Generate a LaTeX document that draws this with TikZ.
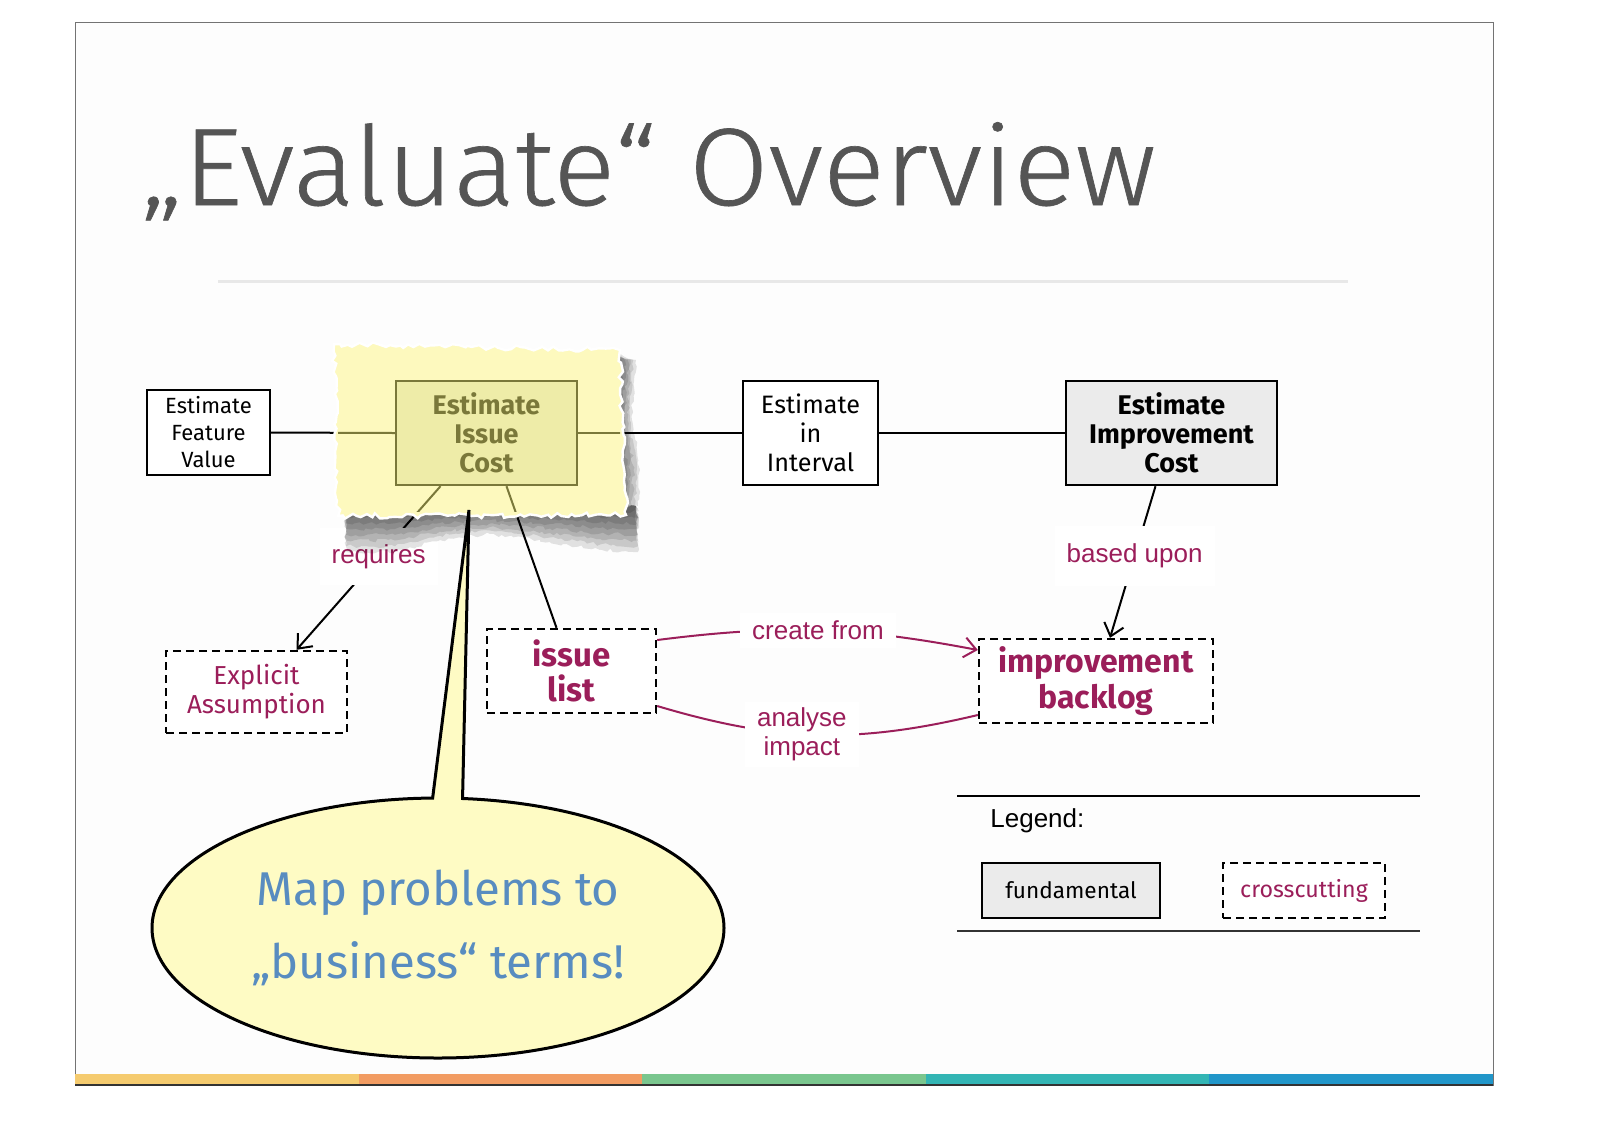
\documentclass[tikz,border=0pt]{standalone}
\usepackage{fontspec}
\setmainfont{Fira Sans}
\newfontfamily\titlefont[FakeStretch=1.05,FakeBold=0.6]{Fira Sans Light}
\newfontfamily\helv{Liberation Sans}
\usetikzlibrary{arrows.meta,calc,shapes.callouts,decorations.pathmorphing}
\definecolor{slidebg}{RGB}{253,253,253}
\definecolor{titlegray}{RGB}{85,85,85}
\definecolor{sepgray}{RGB}{232,232,232}
\definecolor{plum}{RGB}{155,30,90}
\definecolor{olive}{RGB}{122,120,58}
\definecolor{olivefill}{RGB}{238,236,168}
\definecolor{paper}{RGB}{253,249,190}
\definecolor{fundfill}{RGB}{235,235,235}
\definecolor{callfill}{RGB}{254,251,196}
\definecolor{callblue}{RGB}{88,140,192}
\definecolor{barA}{RGB}{245,203,111}
\definecolor{barB}{RGB}{242,156,98}
\definecolor{barC}{RGB}{122,198,142}
\definecolor{barD}{RGB}{51,181,180}
\definecolor{barE}{RGB}{33,150,201}
\pgfdeclarelayer{bg}
\pgfdeclarelayer{lines}
\pgfdeclarelayer{sheet}
\pgfsetlayers{bg,lines,sheet,main}
\tikzset{
  box/.style={draw=black, line width=1.2pt, fill=white, align=center, inner sep=0pt},
  plainbox/.style={box, font=\fontsize{11}{13.5}\selectfont},
  fundbox/.style={box, fill=fundfill, font=\bfseries\fontsize{13.5}{14.5}\selectfont},
  crossbox/.style={draw=black, line width=1.2pt, dash pattern=on 4pt off 2.5pt, fill=white, align=center, inner sep=0pt, text=plum},
  lbl/.style={fill=white, text=plum, font=\helv\fontsize{13}{14.5}\selectfont, align=center, inner xsep=6pt, inner ysep=9pt},
  conn/.style={line width=1pt, draw=black},
  barb/.style={-{Straight Barb[length=6pt,width=10pt,line width=1pt]}},
  shd/.style={fill=black, fill opacity=0.11, decorate, decoration={random steps, segment length=2pt, amplitude=0.9pt}},
}
\begin{document}
\begin{tikzpicture}[x=0.5pt,y=-0.5pt]
\useasboundingbox (0,0) rectangle (1600,1131);
\begin{pgfonlayer}{bg}
\fill[white] (0,0) rectangle (1600,1131);
\fill[slidebg] (75,22) rectangle (1493,1085);
\draw[black!55, line width=0.5pt] (75,22) rectangle (1493,1085);
\fill[barA] (75,1074) rectangle (358.6,1085);
\fill[barB] (358.6,1074) rectangle (642.2,1085);
\fill[barC] (642.2,1074) rectangle (925.8,1085);
\fill[barD] (925.8,1074) rectangle (1209.4,1085);
\fill[barE] (1209.4,1074) rectangle (1493,1085);
\draw[black!80, line width=0.8pt] (75,1085) -- (1493,1085);
\draw[sepgray, line width=1.5pt] (218,281) -- (1348,281);
\end{pgfonlayer}
% title
\node[anchor=base west, inner sep=0pt, text=titlegray, font=\titlefont\fontsize{55}{56}\selectfont] (title) at (140,205) {„Evaluate“ Overview};
% nodes
\node[plainbox, minimum width=61.5pt, minimum height=42.5pt] (fv) at (208.5,432.5) {Estimate\\Feature\\Value};
\node[box, draw=olive, fill=olivefill, text=olive, font=\bfseries\fontsize{13.5}{14.5}\selectfont, minimum width=90.5pt, minimum height=52pt] (ic) at (486.5,433) {Estimate\\Issue\\Cost};
\node[box, font=\fontsize{12.6}{14.5}\selectfont, minimum width=67.5pt, minimum height=52pt] (ei) at (810.5,433) {Estimate\\in\\Interval};
\node[fundbox, minimum width=105.5pt, minimum height=52pt] (eic) at (1171.5,433) {Estimate\\Improvement\\Cost};
\node[crossbox, font=\fontsize{13}{14.5}\selectfont, minimum width=90.5pt, minimum height=41pt] (ea) at (256.5,692) {Explicit\\Assumption};
\node[crossbox, font=\bfseries\fontsize{16.5}{17.5}\selectfont, minimum width=84.5pt, minimum height=42pt] (il) at (571.5,671) {issue\\list};
\node[crossbox, font=\bfseries\fontsize{16}{18}\selectfont, minimum width=117pt, minimum height=42pt] (ib) at (1096,681) {improvement\\backlog};
% connectors
\begin{pgfonlayer}{lines}
\draw[conn] (fv.east) -- (ic.west);
\draw[conn] (ic.east) -- (ei.west);
\draw[conn] (ei.east) -- (eic.west);
\draw[conn, barb] ($(ic.south)+(-46,0)$) -- node[lbl, pos=0.43, inner ysep=8pt] (req) {requires} ($(ea.north)+(40,0)$);
\draw[conn] ($(ic.south)+(20,0)$) -- ($(il.north)+(-15,0)$);
\draw[conn, barb] ($(eic.south)+(-16,0)$) -- node[lbl, pos=0.46] (bu) {based upon} ($(ib.north)+(14,0)$);
\draw[conn, draw=plum, barb] ($(il.east)+(0,-31)$) to[bend left=9] node[lbl, pos=0.5, inner ysep=4pt] (cf) {create from} ($(ib.west)+(0,-31)$);
\draw[conn, draw=plum] ($(il.east)+(0,35)$) to[bend right=15] node[lbl, pos=0.45, inner ysep=3pt] (ai) {analyse\\impact} ($(ib.west)+(0,34)$);
\end{pgfonlayer}
% torn paper with shadow
\begin{pgfonlayer}{sheet}
\pgfmathsetseed{11}
\foreach \f in {1,0.875,0.75,0.625,0.5,0.375,0.25,0.125}{
  \fill[shd] (344,506) -- (636,506) -- (638,{506+\f*46}) -- (600,{506+\f*44}) -- (550,{506+\f*36}) -- (490,{506+\f*28}) -- (440,{506+\f*34}) -- (395,{506+\f*46}) -- (346,{506+\f*46}) -- cycle;
  \fill[shd] (614,354) -- ({614+\f*22},360) -- ({614+\f*18},420) -- ({614+\f*26},470) -- ({614+\f*24},506) -- (614,506) -- cycle;
}
\pgfmathsetseed{5}
\filldraw[draw=white, line width=1.2pt, fill=paper, decorate, decoration={random steps, segment length=2.5pt, amplitude=1.3pt}]
  (334,344) -- (620,350) -- (626,515) -- (338,516) -- cycle;
\begin{scope}
\clip (338,350) rectangle (620,511);
\draw[conn, draw=olive] (fv.east) -- (ic.west);
\draw[conn, draw=olive] (ic.east) -- (ei.west);
\draw[conn, draw=olive] ($(ic.south)+(-46,0)$) -- ($(ea.north)+(40,0)$);
\draw[conn, draw=olive] ($(ic.south)+(20,0)$) -- ($(il.north)+(-15,0)$);
\end{scope}
\end{pgfonlayer}
% legend
\coordinate (lgA) at (957,796);
\coordinate (lgB) at (1420,796);
\coordinate (lgC) at (957,931);
\coordinate (lgD) at (1420,931);
\draw[line width=1.2pt] (lgA) -- (lgB);
\draw[line width=1.2pt, black!80] (lgC) -- (lgD);
\node[anchor=west, inner sep=0pt, font=\helv\fontsize{13}{14}\selectfont] (lg) at (990,821) {Legend:};
\node[box, fill=fundfill, font=\fontsize{11.3}{13}\selectfont, minimum width=89pt, minimum height=27.5pt] (fund) at (1071,890.5) {fundamental};
\node[crossbox, font=\fontsize{11.6}{13}\selectfont, minimum width=81pt, minimum height=27.5pt] (cross) at (1304,890.5) {crosscutting};
% callout
\coordinate (tip) at (469,510);
\node[ellipse callout, draw=black, line width=1.5pt, fill=callfill, minimum width=286pt, minimum height=130pt, callout absolute pointer={(tip)}, callout pointer arc=6, text=callblue, align=center, font=\fontsize{23.7}{36.5}\selectfont] (call) at (438,928) {Map problems to\\„business“ terms!};
\end{tikzpicture}
\end{document}
